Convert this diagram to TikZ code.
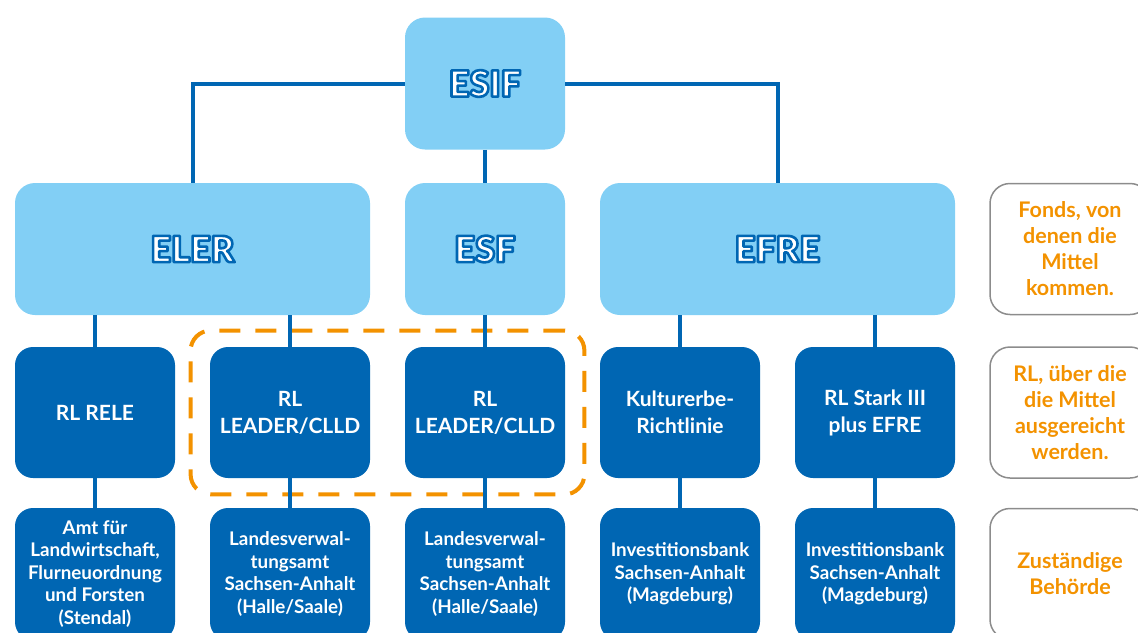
\documentclass[tikz,border=0pt]{standalone}
\usepackage{fontspec}
\setmainfont{Lato}
\newfontfamily\heavyfont{Lato Black}
\usetikzlibrary{fit}
\definecolor{fundblue}{HTML}{82CFF5}
\definecolor{rlblue}{HTML}{0066B3}
\definecolor{notegray}{HTML}{8C8C8C}
\definecolor{noteorange}{HTML}{F39200}
% white letters with a blue rim
\newcommand\outlined[1]{\special{pdf:literal 2 Tr 2.6 w 1 j 0 0.4 0.702 RG}#1\special{pdf:literal 0 Tr}}

\begin{document}
\begin{tikzpicture}[x=1pt, y=-1pt, thick,
    fund/.style = {fill=fundblue, rounded corners=20pt, minimum width=160pt, minimum height=132pt, text=white, font=\fontsize{36}{40}\selectfont\heavyfont},
    rl/.style = {fill=rlblue, rounded corners=18pt, minimum width=160pt, minimum height=131pt, text=white, align=center, font=\fontsize{21}{27}\selectfont\bfseries},
    office/.style = {rl, minimum height=132pt, font=\fontsize{18.8}{22.5}\selectfont\bfseries},
    note/.style = {draw=notegray, line width=1.5pt, rounded corners=20pt, minimum width=160pt, minimum height=131pt, text=noteorange, align=center, font=\fontsize{21.5}{26}\selectfont\bfseries},
    link/.style = {draw=rlblue, line width=4pt},
    group/.style = {draw=noteorange, line width=4pt, dash pattern=on 21pt off 15pt, rounded corners=20pt, inner xsep=19pt, inner ysep=16pt}]

      \useasboundingbox (0,0) rectangle (1138,632);
      \clip (0,0) rectangle (1138,632);

      % Nodes
      \node[fund] (esif) at (485,83.5) {\outlined{ESIF}};
      \node[fund, minimum width=355pt] (eler) at (192.5,249) {\outlined{ELER}};
      \node[fund] (esf) at (485,249) {\outlined{ESF}};
      \node[fund, minimum width=355pt] (efre) at (777.5,249) {\outlined{EFRE}};

      \node[rl] (rele) at (95,412.5) {RL RELE};
      \node[rl] (leaderA) at (290,412.5) {RL\\LEADER/CLLD};
      \node[rl] (leaderB) at (485,412.5) {RL\\LEADER/CLLD};
      \node[rl] (kultur) at (680,412.5) {Kulturerbe-\\Richtlinie};
      \node[rl] (stark) at (875,412.5) {RL Stark III\\plus EFRE};

      \node[office] (amt) at (95,574) {Amt für\\Landwirtschaft,\\Flurneuordnung\\und Forsten\\(Stendal)};
      \node[office] (lvwA) at (290,574) {Landesverwal-\\tungsamt\\Sachsen-Anhalt\\(Halle/Saale)};
      \node[office] (lvwB) at (485,574) {Landesverwal-\\tungsamt\\Sachsen-Anhalt\\(Halle/Saale)};
      \node[office] (ibA) at (680,574) {Investitionsbank\\Sachsen-Anhalt\\(Magdeburg)};
      \node[office] (ibB) at (875,574) {Investitionsbank\\Sachsen-Anhalt\\(Magdeburg)};

      \node[note] (noteFund) at (1070,249) {Fonds, von\\denen die\\Mittel\\kommen.};
      \node[note] (noteRL) at (1070,412.5) {RL, über die\\die Mittel\\ausgereicht\\werden.};
      \node[note] (noteOffice) at (1070,574) {Zuständige\\Behörde};

      \node[group, fit=(leaderA)(leaderB)] (leader) {};

      % Links
      \draw[link] (esif.west) -| (eler.north);
      \draw[link] (esif.east) -| (efre.north);
      \draw[link] (esif) -- (esf);
      \draw[link] (eler.south -| rele) -- (rele);
      \draw[link] (eler.south -| leaderA) -- (leaderA);
      \draw[link] (esf) -- (leaderB);
      \draw[link] (efre.south -| kultur) -- (kultur);
      \draw[link] (efre.south -| stark) -- (stark);
      \foreach \a/\b in {rele/amt, leaderA/lvwA, leaderB/lvwB, kultur/ibA, stark/ibB}
        \draw[link] (\a) -- (\b);

    \end{tikzpicture}
\end{document}
